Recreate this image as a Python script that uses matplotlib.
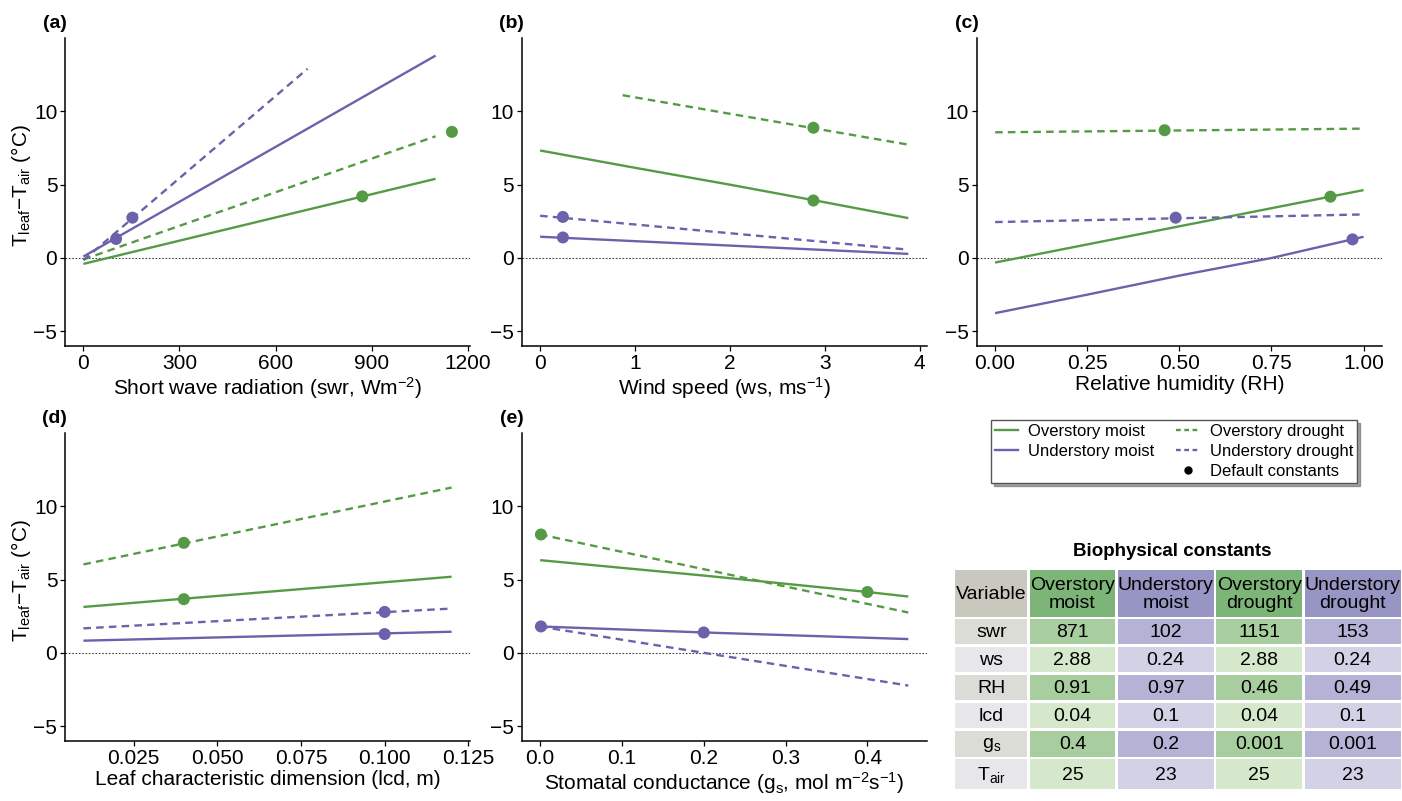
import numpy as np
import matplotlib
matplotlib.use("Agg")
import matplotlib.pyplot as plt
from matplotlib.lines import Line2D
from matplotlib.patches import Rectangle

plt.rcParams["font.family"] = ["Liberation Sans", "DejaVu Sans"]
plt.rcParams["mathtext.fontset"] = "custom"
plt.rcParams["mathtext.rm"] = "Liberation Sans"
plt.rcParams["mathtext.it"] = "Liberation Sans:italic"
plt.rcParams["mathtext.bf"] = "Liberation Sans:bold"

GREEN = "#559A45"
PURPLE = "#6A62AA"

# === dados ===
# (a) radiação de onda curta
a_om_x = [0, 1100]
a_om_y = [-0.4, 5.4]
a_um_x = [0, 1100]
a_um_y = [0.1, 13.8]
a_od_x = [0, 1100]
a_od_y = [-0.1, 8.3]
a_ud_x = [0, 700]
a_ud_y = [-0.15, 12.9]
a_dots_x = [871, 102, 1151, 153]
a_dots_y = [4.2, 1.3, 8.6, 2.75]

# (b) velocidade do vento
b_om_x = [0, 1, 2, 3, 3.88]
b_om_y = [7.33, 6.15, 5.0, 3.8, 2.72]
b_um_x = [0, 3.88]
b_um_y = [1.45, 0.28]
b_od_x = [0.87, 3.88]
b_od_y = [11.1, 7.73]
b_ud_x = [0, 3.88]
b_ud_y = [2.88, 0.57]
b_dots_x = [2.88, 0.24, 2.88, 0.24]
b_dots_y = [3.92, 1.4, 8.88, 2.8]

# (c) umidade relativa
c_om_x = [0, 1]
c_om_y = [-0.31, 4.63]
c_um_x = [0, 0.25, 0.5, 0.75, 1.0]
c_um_y = [-3.76, -2.5, -1.2, 0.0, 1.45]
c_od_x = [0, 1]
c_od_y = [8.57, 8.82]
c_ud_x = [0, 1]
c_ud_y = [2.45, 2.97]
c_dots_x = [0.91, 0.97, 0.46, 0.49]
c_dots_y = [4.18, 1.27, 8.71, 2.75]

# (d) dimensão característica da folha
d_om_x = [0.01, 0.12]
d_om_y = [3.14, 5.2]
d_um_x = [0.01, 0.12]
d_um_y = [0.84, 1.45]
d_od_x = [0.01, 0.12]
d_od_y = [6.04, 11.28]
d_ud_x = [0.01, 0.12]
d_ud_y = [1.68, 3.03]
d_dots_x = [0.04, 0.1, 0.04, 0.1]
d_dots_y = [3.67, 1.29, 7.51, 2.8]

# (e) condutância estomática
e_om_x = [0, 0.2, 0.4, 0.45]
e_om_y = [6.33, 5.28, 4.16, 3.85]
e_um_x = [0, 0.2, 0.45]
e_um_y = [1.81, 1.4, 0.95]
e_od_x = [0, 0.45]
e_od_y = [8.08, 2.76]
e_ud_x = [0, 0.45]
e_ud_y = [1.8, -2.22]
e_dots_x = [0.4, 0.2, 0.001, 0.001]
e_dots_y = [4.16, 1.4, 8.08, 1.81]

# tabela de constantes
tab_vars = ["swr", "ws", "RH", "lcd", r"$\mathregular{g_s}$", r"$\mathregular{T_{air}}$"]
tab_headers = ["Overstory\nmoist", "Understory\nmoist", "Overstory\ndrought", "Understory\ndrought"]
tab_om = ["871", "2.88", "0.91", "0.04", "0.4", "25"]
tab_um = ["102", "0.24", "0.97", "0.1", "0.2", "23"]
tab_od = ["1151", "2.88", "0.46", "0.04", "0.001", "25"]
tab_ud = ["153", "0.24", "0.49", "0.1", "0.001", "23"]

ylabel = r"$\mathregular{T_{leaf}{-}T_{air}}$ (°C)"

paineis = [
    ("(a)", [65, 38, 470, 346], (-57.5, 1207.5), [0, 300, 600, 900, 1200], None,
     r"Short wave radiation (swr, $\mathregular{Wm^{-2}}$)",
     (a_om_x, a_om_y), (a_um_x, a_um_y), (a_od_x, a_od_y), (a_ud_x, a_ud_y), (a_dots_x, a_dots_y), True),
    ("(b)", [521.7, 38, 926.7, 346], (-0.194, 4.074), [0, 1, 2, 3, 4], None,
     r"Wind speed (ws, $\mathregular{ms^{-1}}$)",
     (b_om_x, b_om_y), (b_um_x, b_um_y), (b_od_x, b_od_y), (b_ud_x, b_ud_y), (b_dots_x, b_dots_y), False),
    ("(c)", [976.7, 38, 1382, 346], (-0.05, 1.05), [0, 0.25, 0.5, 0.75, 1.0],
     ["0.00", "0.25", "0.50", "0.75", "1.00"],
     "Relative humidity (RH)",
     (c_om_x, c_om_y), (c_um_x, c_um_y), (c_od_x, c_od_y), (c_ud_x, c_ud_y), (c_dots_x, c_dots_y), False),
    ("(d)", [65, 433, 470, 741], (0.0045, 0.1255), [0.025, 0.05, 0.075, 0.1, 0.125],
     ["0.025", "0.050", "0.075", "0.100", "0.125"],
     "Leaf characteristic dimension (lcd, m)",
     (d_om_x, d_om_y), (d_um_x, d_um_y), (d_od_x, d_od_y), (d_ud_x, d_ud_y), (d_dots_x, d_dots_y), True),
    ("(e)", [521.7, 433, 926.7, 741], (-0.0225, 0.4725), [0, 0.1, 0.2, 0.3, 0.4],
     ["0.0", "0.1", "0.2", "0.3", "0.4"],
     r"Stomatal conductance ($\mathregular{g_s}$, mol $\mathregular{m^{-2}s^{-1}}$)",
     (e_om_x, e_om_y), (e_um_x, e_um_y), (e_od_x, e_od_y), (e_ud_x, e_ud_y), (e_dots_x, e_dots_y), False),
]

W, H = 1402, 801
fig = plt.figure(figsize=(W / 100, H / 100), dpi=100)

dash = (0, (3.2, 2.2))
for rot, (x0, y0, x1, y1), xlim, xt, xtl, xlab, om, um, od, ud, dots, show_ylab in paineis:
    ax = fig.add_axes([x0 / W, 1 - y1 / H, (x1 - x0) / W, (y1 - y0) / H])
    ax.axhline(0, color="#444444", lw=0.8, ls=(0, (1.5, 1.5)), zorder=1)
    ax.plot(om[0], om[1], color=GREEN, lw=1.7, solid_capstyle="butt")
    ax.plot(um[0], um[1], color=PURPLE, lw=1.7, solid_capstyle="butt")
    ax.plot(od[0], od[1], color=GREEN, lw=1.7, ls=dash)
    ax.plot(ud[0], ud[1], color=PURPLE, lw=1.7, ls=dash)
    ax.scatter(dots[0], dots[1], c=[GREEN, PURPLE, GREEN, PURPLE], s=75, zorder=5, linewidths=0)
    ax.set_xlim(*xlim)
    ax.set_ylim(-6, 15)
    ax.set_xticks(xt)
    if xtl is not None:
        ax.set_xticklabels(xtl)
    ax.set_yticks([-5, 0, 5, 10])
    for s in ["top", "right"]:
        ax.spines[s].set_visible(False)
    for s in ["left", "bottom"]:
        ax.spines[s].set_linewidth(1.1)
    ax.tick_params(labelsize=15, length=3.5, width=0.9, colors="black", pad=2)
    ax.set_xlabel(xlab, fontsize=15, labelpad=2)
    if show_ylab:
        ax.set_ylabel(ylabel, fontsize=15)
        ax.yaxis.set_label_coords(-0.08, 0.52)
    ax.text(0.005, 1.02, rot, transform=ax.transAxes, fontsize=14, fontweight="bold",
            ha="right", va="bottom")

# === legenda ===
h_om = Line2D([], [], color=GREEN, lw=1.7)
h_um = Line2D([], [], color=PURPLE, lw=1.7)
h_blank = Line2D([], [], color="none")
h_od = Line2D([], [], color=GREEN, lw=1.7, ls=(0, (2, 1.5)))
h_ud = Line2D([], [], color=PURPLE, lw=1.7, ls=(0, (2, 1.5)))
h_dot = Line2D([], [], color="black", marker="o", ls="none", ms=5)
leg = fig.legend([h_om, h_um, h_blank, h_od, h_ud, h_dot],
                 ["Overstory moist", "Understory moist", "", "Overstory drought",
                  "Understory drought", "Default constants"],
                 ncol=2, loc="center", bbox_to_anchor=(1174 / W, 1 - 451.5 / H),
                 fontsize=12, frameon=True, fancybox=False, shadow=True,
                 handlelength=1.4, labelspacing=0.3, columnspacing=1.3,
                 borderpad=0.25, handletextpad=0.6, borderaxespad=0)
leg.get_frame().set_edgecolor("#555555")
leg.get_frame().set_linewidth(1.0)

# === tabela ===
tx = fig.add_axes([0, 0, 1, 1])
tx.set_xlim(0, W)
tx.set_ylim(H, 0)
tx.axis("off")

col_edges = [954, 1028.5, 1116.5, 1215, 1303.5, 1402]
row_edges = [569, 618, 645.5, 673.5, 701.5, 729.5, 758, 790]
header_cols = ["#C8C8BF", "#7DB578", "#9795C4", "#7DB578", "#9795C4"]
dark_cols = ["#DCDCD7", "#A8CE9F", "#B4B2D5", "#A8CE9F", "#B4B2D5"]
light_cols = ["#E7E6E9", "#D5E8CC", "#D3D1E6", "#D5E8CC", "#D3D1E6"]
gap = 1.4

tx.text(1172, 552, "Biophysical constants", ha="center", va="center",
        fontsize=13.5, fontweight="bold")

colunas = [tab_vars, tab_om, tab_um, tab_od, tab_ud]
cabecalho = ["Variable"] + tab_headers
for j in range(5):
    cx0, cx1 = col_edges[j] + gap, col_edges[j + 1] - gap
    for i in range(7):
        ry0, ry1 = row_edges[i] + gap, row_edges[i + 1] - gap
        if i == 0:
            fc = header_cols[j]
            txt = cabecalho[j]
        else:
            fc = dark_cols[j] if i % 2 == 1 else light_cols[j]
            txt = colunas[j][i - 1]
        tx.add_patch(Rectangle((cx0, ry0), cx1 - cx0, ry1 - ry0, facecolor=fc, edgecolor="none"))
        tx.text((cx0 + cx1) / 2, (ry0 + ry1) / 2 + 1, txt, ha="center", va="center",
                fontsize=14, linespacing=1.0)

fig.savefig("out.png", dpi=100)
